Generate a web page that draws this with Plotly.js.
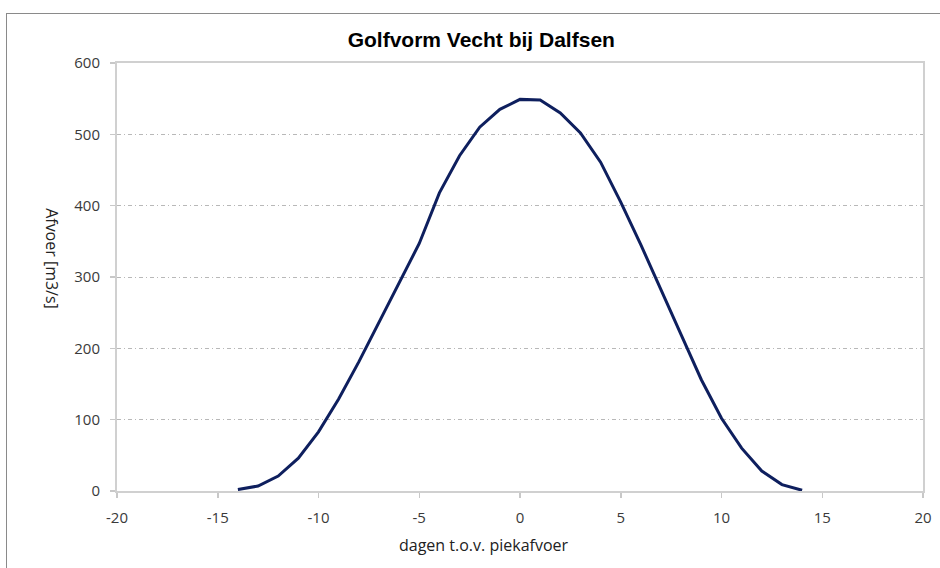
<!DOCTYPE html>
<html><head><meta charset="utf-8">
<script src="https://cdn.plot.ly/plotly-3.0.1.min.js"></script>
<style>
html,body{margin:0;padding:0;background:#fff;}
#chart{width:940px;height:568px;position:absolute;left:0;top:0;}
#frame{position:absolute;left:6px;top:13px;width:1000px;height:600px;border-left:1.5px solid #8a8a8a;border-top:1.5px solid #8a8a8a;pointer-events:none;}
</style></head>
<body>
<div id="chart"></div>
<div id="frame"></div>
<script>
const days = [-14,-13,-12,-11,-10,-9,-8,-7,-6,-5,-4,-3,-2,-1,0,1,2,3,4,5,6,7,8,9,10,11,12,13,14];
const afvoer = [2,7,21,46,83,129,181,236,292,347,418,470,510,535,549,548,530,502,461,405,345,283,219,156,102,60,28,9,1];
const xTicks = [-20,-15,-10,-5,0,5,10,15,20];
const yTicks = [0,100,200,300,400,500,600];

const trace = {
  x: days, y: afvoer, type: 'scatter', mode: 'lines',
  line: {color: '#0e1f5e', width: 3}, hoverinfo: 'skip'
};
const tickFont = {family: 'Open Sans, Lato, sans-serif', size: 15, color: '#3a3a3a'};
const layout = {
  width: 940, height: 568,
  margin: {l: 117, r: 17, t: 63, b: 77},
  paper_bgcolor: '#ffffff', plot_bgcolor: '#ffffff',
  showlegend: false,
  title: {text: 'Golfvorm Vecht bij Dalfsen', x: 0.512, xanchor: 'center', y: 0.93, yanchor: 'middle',
          font: {family: 'Liberation Sans, Arial, sans-serif', size: 21, color: '#000', weight: 'bold'}},
  xaxis: {
    range: [-20, 20], tickvals: xTicks, ticktext: xTicks.map(String),
    showgrid: false, zeroline: false,
    showline: true, linecolor: '#d0d0d0', linewidth: 2, mirror: true,
    ticks: 'outside', ticklen: 5, tickcolor: '#c8c8c8', tickwidth: 1.5,
    ticklabelstandoff: 7,
    tickfont: tickFont, fixedrange: true
  },
  yaxis: {
    range: [0, 600], tickvals: yTicks, ticktext: yTicks.map(String),
    showgrid: true, gridcolor: '#b8b8b8', gridwidth: 1, griddash: '4px,3px,1px,3px',
    zeroline: false,
    showline: true, linecolor: '#d0d0d0', linewidth: 2, mirror: true,
    ticks: 'outside', ticklen: 5, tickcolor: '#c8c8c8', tickwidth: 1.5,
    ticklabelstandoff: 7,
    tickfont: tickFont, fixedrange: true
  },
  annotations: [
    {text: 'dagen t.o.v. piekafvoer', xref: 'paper', yref: 'paper', x: 0.455, y: -0.126,
     xanchor: 'center', yanchor: 'middle', showarrow: false,
     font: {family: 'Open Sans, Lato, sans-serif', size: 16, color: '#222'}},
    {text: 'Afvoer [m3/s]', xref: 'paper', yref: 'paper', x: -0.0806, y: 0.544,
     xanchor: 'center', yanchor: 'middle', showarrow: false, textangle: 90,
     font: {family: 'Open Sans, Lato, sans-serif', size: 16, color: '#222'}}
  ]
};
Plotly.newPlot('chart', [trace], layout, {displayModeBar: false, staticPlot: true});
</script>
</body></html>
